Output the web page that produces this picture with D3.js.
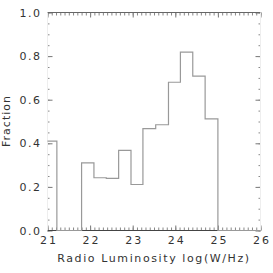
<!DOCTYPE html>
<html>
<head>
<meta charset="utf-8">
<script src="https://cdn.jsdelivr.net/npm/d3@7"></script>
<style>
  body { margin: 0; background: #fff; }
  text { font-family: "DejaVu Sans", sans-serif; fill: #333; }
</style>
</head>
<body>
<div id="plot"></div>
<script>
// bin edges (log W/Hz) and fraction in each bin
const binEdges = [21.0, 21.22, 21.51, 21.8, 22.09, 22.38, 22.67, 22.96, 23.24, 23.54, 23.84, 24.12, 24.41, 24.70, 25.0, 26.0];
const fraction = [0.41, 0, 0, 0.31, 0.242, 0.239, 0.368, 0.211, 0.467, 0.485, 0.68, 0.818, 0.708, 0.512, 0];
const xTicks = [21, 22, 23, 24, 25, 26];
const yTicks = [0.0, 0.2, 0.4, 0.6, 0.8, 1.0];

const W = 273, H = 273;
const margin = {top: 12, right: 13, bottom: 43, left: 47};
const width = W - margin.left - margin.right;
const height = H - margin.top - margin.bottom;

const svg = d3.select("#plot").append("svg")
  .attr("width", W).attr("height", H);

const g = svg.append("g")
  .attr("transform", `translate(${margin.left + 0.5},${margin.top + 0.5})`);

const x = d3.scaleLinear().domain([21, 26]).range([0, width]);
const y = d3.scaleLinear().domain([0, 1]).range([height, 0]);

// axis helper: major + minor ticks, IDL style (ticks pointing inward)
function drawAxis(gen, minorGen, transform) {
  const a = g.append("g").attr("transform", transform).call(gen);
  a.selectAll(".domain").remove();
  a.selectAll(".tick line").attr("stroke", "#777");
  a.selectAll(".tick text").remove();
  const m = g.append("g").attr("transform", transform).call(minorGen);
  m.selectAll(".domain").remove();
  m.selectAll(".tick line").attr("stroke", "#888");
  m.selectAll(".tick text").remove();
}

const xMinor = d3.range(21, 26.001, 0.1);
const yMinor = d3.range(0, 1.001, 0.05);

// bottom
drawAxis(d3.axisTop(x).tickValues(xTicks).tickSize(5),
         d3.axisTop(x).tickValues(xMinor).tickSize(3),
         `translate(0,${height})`);
g.append("g").attr("transform", `translate(0,${height})`)
  .call(d3.axisBottom(x).tickValues(xTicks).tickSize(0).tickPadding(6).tickFormat(d3.format("d")))
  .call(s => s.select(".domain").remove())
  .selectAll("text").style("font-size", "11px").style("letter-spacing", "2px").attr("dx", "1px");
// top
drawAxis(d3.axisBottom(x).tickValues(xTicks).tickSize(5),
         d3.axisBottom(x).tickValues(xMinor).tickSize(3),
         "translate(0,0)");
// left
drawAxis(d3.axisRight(y).tickValues(yTicks).tickSize(5),
         d3.axisRight(y).tickValues(yMinor).tickSize(2),
         "translate(0,0)");
g.append("g")
  .call(d3.axisLeft(y).tickValues(yTicks).tickSize(0).tickPadding(6).tickFormat(d3.format(".1f")))
  .call(s => s.select(".domain").remove())
  .selectAll("text").style("font-size", "11px").style("letter-spacing", "1.5px");
// right
drawAxis(d3.axisLeft(y).tickValues(yTicks).tickSize(5),
         d3.axisLeft(y).tickValues(yMinor).tickSize(2),
         `translate(${width},0)`);

// frame: horizontal edges visible, vertical edges very faint
g.append("line").attr("x1", 0).attr("x2", width).attr("y1", height).attr("y2", height).attr("stroke", "#444");
g.append("line").attr("x1", 0).attr("x2", width).attr("y1", 0).attr("y2", 0).attr("stroke", "#666");
g.append("line").attr("x1", 0).attr("x2", 0).attr("y1", 0).attr("y2", height).attr("stroke", "#eee");
g.append("line").attr("x1", width).attr("x2", width).attr("y1", 0).attr("y2", height).attr("stroke", "#eee");

// histogram step line
const pts = fraction.map((f, i) => [binEdges[i], f]);
pts.push([binEdges[binEdges.length - 1], fraction[fraction.length - 1]]);
g.append("path")
  .datum(pts)
  .attr("fill", "none")
  .attr("stroke", "#999")
  .attr("stroke-width", 1.2)
  .attr("d", d3.line().x(d => x(d[0])).y(d => y(d[1])).curve(d3.curveStepAfter));

// axis titles
svg.append("text")
  .attr("x", 154)
  .attr("y", 262)
  .attr("text-anchor", "middle")
  .style("font-size", "11px")
  .style("letter-spacing", "1.6px")
  .text("Radio Luminosity log(W/Hz)");

svg.append("text")
  .attr("transform", `translate(10,${margin.top + height / 2}) rotate(-90)`)
  .attr("text-anchor", "middle")
  .style("font-size", "11px")
  .style("letter-spacing", "1px")
  .text("Fraction");
</script>
</body>
</html>
